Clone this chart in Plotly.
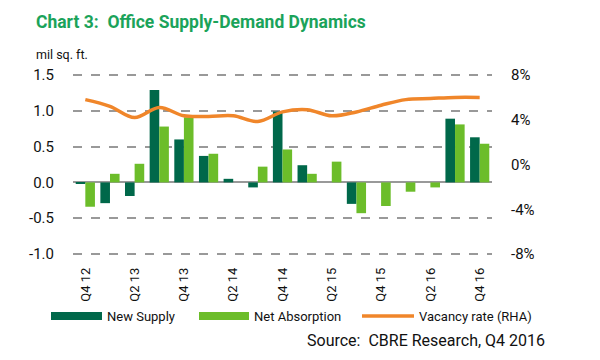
import plotly.graph_objects as go

quarters = ["Q4 12", "Q1 13", "Q2 13", "Q3 13", "Q4 13", "Q1 14", "Q2 14", "Q3 14",
            "Q4 14", "Q1 15", "Q2 15", "Q3 15", "Q4 15", "Q1 16", "Q2 16", "Q3 16", "Q4 16"]
tick_labels = ["Q4 12", "Q2 13", "Q4 13", "Q2 14", "Q4 14", "Q2 15", "Q4 15", "Q2 16", "Q4 16"]
new_supply = [-0.01, -0.29, -0.19, 1.29, 0.60, 0.37, 0.05, -0.07,
              0.99, 0.24, 0.0, -0.30, 0.0, 0.0, 0.0, 0.89, 0.63]
net_absorption = [-0.34, 0.12, 0.26, 0.78, 0.91, 0.40, 0.0, 0.22,
                  0.46, 0.12, 0.29, -0.43, -0.33, -0.13, -0.07, 0.81, 0.54]
vacancy_rate = [5.8, 5.2, 4.2, 5.1, 4.35, 4.3, 4.35, 3.85,
                4.7, 4.9, 4.35, 4.7, 5.3, 5.8, 5.9, 6.0, 6.0]
left_ticks = [-1.0, -0.5, 0.0, 0.5, 1.0, 1.5]
right_ticks = [-8, -4, 0, 4, 8]

DARK = "#00684A"
LIGHT = "#6CBD2A"
ORANGE = "#F0862A"
FONT = "Roboto, sans-serif"

# plot area in page pixels (page has 8px body margin); small padding keeps edge gridlines visible
PL, PR, PT, PB = 73, 492, 73, 256
PW, PH = PR - PL, PB - PT


def px(x):
    return (x - PL) / PW


def py(y):
    return 1 - (y - PT) / PH


fig = go.Figure()
fig.add_trace(go.Bar(x=quarters, y=new_supply, name="New Supply", marker_color=DARK,
                     marker_line_width=0))
fig.add_trace(go.Bar(x=quarters, y=net_absorption, name="Net Absorption", marker_color=LIGHT,
                     marker_line_width=0))
fig.add_trace(go.Scatter(x=quarters, y=vacancy_rate, name="Vacancy rate (RHA)", yaxis="y2",
                         mode="lines", line=dict(color=ORANGE, width=3.5, shape="spline", smoothing=1.0)))

fig.update_layout(
    width=592, height=352,
    margin=dict(l=PL - 8, r=592 - (PR - 8), t=PT - 8, b=352 - (PB - 8)),
    paper_bgcolor="white", plot_bgcolor="white",
    barmode="group", bargap=0.22, bargroupgap=0,
    showlegend=False,
    font=dict(family=FONT, size=15, color="#111"),
    xaxis=dict(type="category", tickmode="array", tickvals=tick_labels, ticktext=tick_labels,
               tickangle=-90, showgrid=False, showline=False, ticks="",
               tickfont=dict(size=13), ticklabelstandoff=8),
    yaxis=dict(range=[-1.028, 1.528], tickvals=left_ticks,
               ticktext=[f"{v:.1f}" for v in left_ticks],
               showgrid=True, gridcolor="#999", griddash="dash", gridwidth=1.5,
               zeroline=True, zerolinecolor="#999", zerolinewidth=2,
               showline=False, ticks="", ticklabelstandoff=18),
    yaxis2=dict(range=[-8.179, 8.179], tickvals=right_ticks,
                ticktext=[f"{v}%" for v in right_ticks],
                overlaying="y", side="right", showgrid=False, zeroline=False,
                showline=False, ticks="", ticklabelstandoff=18),
)

fig.add_annotation(xref="paper", yref="paper", x=px(34), y=py(22), xanchor="left", yanchor="middle",
                   text="<b>Chart 3:  Office Supply-Demand Dynamics</b>", showarrow=False,
                   font=dict(family=FONT, size=17.5, color="#1BA35A"))
fig.add_annotation(xref="paper", yref="paper", x=px(34), y=py(55), xanchor="left", yanchor="middle",
                   text="mil sq. ft.", showarrow=False, font=dict(family=FONT, size=12.5, color="#111"))

# manual legend
LY = 316
items = [(51, 102, DARK, "New Supply", "bar"), (199, 249, LIGHT, "Net Absorption", "bar"),
         (362, 414, ORANGE, "Vacancy rate (RHA)", "line")]
for x0, x1, col, label, kind in items:
    if kind == "bar":
        fig.add_shape(type="rect", xref="paper", yref="paper", x0=px(x0), x1=px(x1),
                      y0=py(LY + 4), y1=py(LY - 4), fillcolor=col, line_width=0)
    else:
        fig.add_shape(type="line", xref="paper", yref="paper", x0=px(x0), x1=px(x1),
                      y0=py(LY), y1=py(LY), line=dict(color=col, width=3.5))
    fig.add_annotation(xref="paper", yref="paper", x=px(x1 + 3), y=py(LY),
                       xanchor="left", yanchor="middle", text=label, showarrow=False,
                       font=dict(family=FONT, size=13, color="#111"))

fig.add_annotation(xref="paper", yref="paper", x=px(547), y=py(340),
                   xanchor="right", yanchor="middle", text="Source:  CBRE Research, Q4 2016",
                   showarrow=False, font=dict(family=FONT, size=16, color="#111"))

fig.write_html("out.html")
